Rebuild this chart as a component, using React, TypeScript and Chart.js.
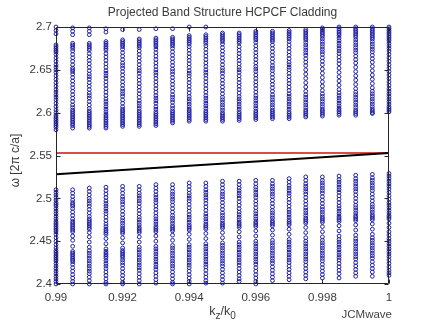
import React, { useEffect, useRef } from "react";
import { Chart, registerables } from "chart.js";

Chart.register(...registerables);

const kValues = [
  0.99, 0.9905, 0.991, 0.9915, 0.992, 0.9925, 0.993, 0.9935, 0.994, 0.9945,
  0.995, 0.9955, 0.996, 0.9965, 0.997, 0.9975, 0.998, 0.9985, 0.999, 0.9995, 1.0,
];

const col00 = [2.700, 2.696, 2.692, 2.679, 2.677, 2.675, 2.673, 2.671, 2.668, 2.664, 2.660, 2.656, 2.653, 2.650, 2.647, 2.643, 2.639, 2.635, 2.631, 2.627, 2.624, 2.621, 2.618, 2.615, 2.611, 2.607, 2.603, 2.600, 2.597, 2.595, 2.593, 2.591, 2.589, 2.587, 2.585, 2.583, 2.580,
  2.510, 2.507, 2.504, 2.501, 2.498, 2.495, 2.493, 2.491, 2.488, 2.485, 2.482, 2.479, 2.476, 2.473, 2.471, 2.469, 2.467, 2.465, 2.463, 2.461, 2.458, 2.454, 2.450, 2.446, 2.442, 2.439, 2.437, 2.435, 2.433, 2.431, 2.429, 2.427, 2.424, 2.421, 2.418, 2.415, 2.412, 2.409, 2.406, 2.403, 2.400];
const col01 = [2.699, 2.695, 2.691, 2.681, 2.679, 2.677, 2.675, 2.672, 2.668, 2.664, 2.660, 2.656, 2.652, 2.650, 2.648, 2.645, 2.641, 2.637, 2.633, 2.629, 2.625, 2.621, 2.617, 2.613, 2.609, 2.606, 2.603, 2.601, 2.599, 2.597, 2.595, 2.593, 2.591, 2.589, 2.587, 2.585, 2.582,
  2.510, 2.506, 2.502, 2.498, 2.495, 2.493, 2.491, 2.488, 2.484, 2.480, 2.476, 2.473, 2.471, 2.469, 2.467, 2.465, 2.463, 2.461, 2.456, 2.451, 2.444, 2.438, 2.436, 2.434, 2.432, 2.430, 2.428, 2.426, 2.423, 2.419, 2.415, 2.411, 2.407, 2.403, 2.400];
const col02 = [2.699, 2.695, 2.691, 2.681, 2.679, 2.677, 2.675, 2.673, 2.669, 2.665, 2.661, 2.657, 2.653, 2.649, 2.645, 2.642, 2.639, 2.635, 2.631, 2.627, 2.623, 2.620, 2.617, 2.613, 2.609, 2.605, 2.602, 2.600, 2.598, 2.596, 2.594, 2.592, 2.590, 2.588, 2.586, 2.584, 2.582,
  2.512, 2.508, 2.504, 2.500, 2.497, 2.494, 2.491, 2.487, 2.483, 2.479, 2.476, 2.474, 2.472, 2.470, 2.468, 2.466, 2.464, 2.460, 2.455, 2.449, 2.443, 2.439, 2.436, 2.433, 2.430, 2.427, 2.424, 2.421, 2.418, 2.415, 2.412, 2.408, 2.404, 2.400];
const col03 = [2.698, 2.694, 2.683, 2.681, 2.679, 2.677, 2.675, 2.673, 2.669, 2.665, 2.661, 2.657, 2.653, 2.649, 2.646, 2.643, 2.640, 2.636, 2.632, 2.628, 2.624, 2.620, 2.616, 2.613, 2.610, 2.607, 2.604, 2.601, 2.598, 2.596, 2.594, 2.592, 2.590, 2.588, 2.586, 2.584, 2.582,
  2.513, 2.509, 2.505, 2.501, 2.497, 2.494, 2.491, 2.488, 2.485, 2.482, 2.478, 2.474, 2.470, 2.467, 2.464, 2.462, 2.460, 2.458, 2.453, 2.447, 2.441, 2.438, 2.436, 2.434, 2.432, 2.430, 2.427, 2.424, 2.421, 2.418, 2.414, 2.410, 2.406, 2.402, 2.400];
const col04 = [2.697, 2.685, 2.683, 2.681, 2.679, 2.677, 2.674, 2.670, 2.666, 2.662, 2.658, 2.655, 2.652, 2.648, 2.644, 2.640, 2.636, 2.632, 2.628, 2.625, 2.622, 2.619, 2.615, 2.611, 2.607, 2.604, 2.602, 2.600, 2.598, 2.596, 2.594, 2.592, 2.590, 2.588, 2.586, 2.584,
  2.514, 2.510, 2.506, 2.502, 2.499, 2.496, 2.493, 2.489, 2.485, 2.481, 2.477, 2.474, 2.471, 2.468, 2.465, 2.463, 2.461, 2.459, 2.454, 2.448, 2.442, 2.439, 2.437, 2.435, 2.433, 2.431, 2.428, 2.425, 2.422, 2.418, 2.414, 2.410, 2.406, 2.402, 2.400];
const col05 = [2.697, 2.686, 2.684, 2.682, 2.680, 2.678, 2.676, 2.672, 2.668, 2.664, 2.660, 2.656, 2.652, 2.649, 2.646, 2.642, 2.638, 2.634, 2.630, 2.626, 2.622, 2.618, 2.614, 2.611, 2.608, 2.605, 2.602, 2.600, 2.598, 2.596, 2.594, 2.592, 2.590, 2.588, 2.586, 2.584,
  2.514, 2.510, 2.506, 2.503, 2.500, 2.497, 2.494, 2.490, 2.486, 2.482, 2.478, 2.475, 2.472, 2.469, 2.466, 2.464, 2.462, 2.460, 2.455, 2.449, 2.443, 2.440, 2.437, 2.434, 2.431, 2.428, 2.425, 2.422, 2.419, 2.416, 2.412, 2.408, 2.404, 2.400];
const col06 = [2.698, 2.687, 2.685, 2.683, 2.681, 2.679, 2.677, 2.674, 2.670, 2.666, 2.662, 2.658, 2.654, 2.650, 2.647, 2.644, 2.640, 2.636, 2.632, 2.628, 2.624, 2.620, 2.617, 2.614, 2.611, 2.607, 2.604, 2.601, 2.599, 2.597, 2.595, 2.593, 2.591, 2.589, 2.587, 2.585,
  2.516, 2.512, 2.508, 2.504, 2.501, 2.498, 2.495, 2.491, 2.487, 2.483, 2.479, 2.476, 2.473, 2.470, 2.467, 2.465, 2.463, 2.461, 2.456, 2.450, 2.444, 2.441, 2.438, 2.435, 2.432, 2.429, 2.426, 2.423, 2.420, 2.417, 2.413, 2.409, 2.405, 2.401];
const col07 = [2.698, 2.688, 2.686, 2.684, 2.682, 2.680, 2.678, 2.675, 2.671, 2.667, 2.663, 2.659, 2.655, 2.651, 2.648, 2.645, 2.641, 2.637, 2.633, 2.629, 2.625, 2.621, 2.618, 2.615, 2.612, 2.608, 2.605, 2.602, 2.600, 2.598, 2.596, 2.594, 2.592, 2.590, 2.588,
  2.516, 2.512, 2.508, 2.505, 2.502, 2.499, 2.496, 2.492, 2.488, 2.484, 2.480, 2.477, 2.474, 2.471, 2.468, 2.466, 2.464, 2.462, 2.457, 2.451, 2.445, 2.442, 2.439, 2.436, 2.433, 2.430, 2.427, 2.424, 2.421, 2.418, 2.414, 2.410, 2.406, 2.402, 2.400];
const col08 = [2.700, 2.690, 2.688, 2.686, 2.684, 2.682, 2.680, 2.677, 2.673, 2.669, 2.665, 2.661, 2.657, 2.653, 2.649, 2.646, 2.643, 2.639, 2.635, 2.631, 2.627, 2.623, 2.619, 2.616, 2.613, 2.610, 2.607, 2.604, 2.602, 2.600, 2.598, 2.596, 2.594, 2.592, 2.590,
  2.518, 2.514, 2.510, 2.506, 2.503, 2.500, 2.497, 2.493, 2.489, 2.485, 2.481, 2.478, 2.475, 2.472, 2.469, 2.467, 2.465, 2.463, 2.458, 2.452, 2.446, 2.443, 2.440, 2.437, 2.434, 2.431, 2.428, 2.425, 2.422, 2.419, 2.415, 2.411, 2.407, 2.403, 2.400];
const col09 = [2.700, 2.691, 2.689, 2.687, 2.685, 2.683, 2.681, 2.678, 2.674, 2.670, 2.666, 2.662, 2.658, 2.654, 2.650, 2.647, 2.644, 2.640, 2.636, 2.632, 2.628, 2.624, 2.620, 2.617, 2.614, 2.611, 2.608, 2.605, 2.602, 2.600, 2.598, 2.596, 2.594, 2.592, 2.590,
  2.518, 2.514, 2.510, 2.507, 2.504, 2.501, 2.498, 2.494, 2.490, 2.486, 2.482, 2.479, 2.476, 2.473, 2.470, 2.468, 2.466, 2.464, 2.459, 2.453, 2.447, 2.444, 2.441, 2.438, 2.435, 2.432, 2.429, 2.426, 2.423, 2.420, 2.416, 2.412, 2.408, 2.404, 2.401];
const col10 = [2.693, 2.691, 2.689, 2.687, 2.685, 2.683, 2.680, 2.676, 2.672, 2.668, 2.664, 2.660, 2.656, 2.652, 2.649, 2.646, 2.642, 2.638, 2.634, 2.630, 2.626, 2.622, 2.618, 2.615, 2.612, 2.609, 2.606, 2.603, 2.600, 2.598, 2.596, 2.594, 2.592, 2.590,
  2.520, 2.516, 2.512, 2.508, 2.505, 2.502, 2.499, 2.495, 2.491, 2.487, 2.483, 2.480, 2.477, 2.474, 2.471, 2.469, 2.467, 2.465, 2.460, 2.454, 2.448, 2.445, 2.442, 2.439, 2.436, 2.433, 2.430, 2.427, 2.424, 2.421, 2.417, 2.413, 2.409, 2.405, 2.401];
const col11 = [2.693, 2.691, 2.689, 2.687, 2.685, 2.683, 2.681, 2.677, 2.673, 2.669, 2.665, 2.661, 2.657, 2.653, 2.650, 2.647, 2.643, 2.639, 2.635, 2.631, 2.627, 2.623, 2.619, 2.616, 2.613, 2.610, 2.607, 2.604, 2.601, 2.599, 2.597, 2.595, 2.593, 2.591,
  2.520, 2.516, 2.512, 2.509, 2.506, 2.503, 2.500, 2.496, 2.492, 2.488, 2.484, 2.481, 2.478, 2.475, 2.472, 2.470, 2.468, 2.466, 2.461, 2.455, 2.449, 2.446, 2.443, 2.440, 2.437, 2.434, 2.431, 2.428, 2.425, 2.422, 2.418, 2.414, 2.410, 2.406, 2.403];
const col12 = [2.695, 2.693, 2.691, 2.689, 2.687, 2.685, 2.682, 2.678, 2.674, 2.670, 2.666, 2.662, 2.658, 2.654, 2.651, 2.648, 2.644, 2.640, 2.636, 2.632, 2.628, 2.624, 2.620, 2.617, 2.614, 2.611, 2.608, 2.605, 2.602, 2.600, 2.598, 2.596, 2.594, 2.592,
  2.521, 2.517, 2.513, 2.510, 2.507, 2.504, 2.501, 2.497, 2.493, 2.489, 2.485, 2.482, 2.479, 2.476, 2.473, 2.471, 2.469, 2.467, 2.462, 2.456, 2.450, 2.447, 2.444, 2.441, 2.438, 2.435, 2.432, 2.429, 2.426, 2.423, 2.419, 2.415, 2.411, 2.407, 2.403, 2.400];
const col13 = [2.695, 2.693, 2.691, 2.689, 2.687, 2.685, 2.683, 2.679, 2.675, 2.671, 2.667, 2.663, 2.659, 2.655, 2.652, 2.649, 2.645, 2.641, 2.637, 2.633, 2.629, 2.625, 2.621, 2.618, 2.615, 2.612, 2.609, 2.606, 2.603, 2.601, 2.599, 2.597, 2.595, 2.593,
  2.521, 2.517, 2.514, 2.511, 2.508, 2.505, 2.502, 2.498, 2.494, 2.490, 2.486, 2.483, 2.480, 2.477, 2.474, 2.472, 2.470, 2.468, 2.463, 2.457, 2.451, 2.448, 2.445, 2.442, 2.439, 2.436, 2.433, 2.430, 2.427, 2.424, 2.420, 2.416, 2.412, 2.408, 2.404];
const col14 = [2.696, 2.694, 2.692, 2.690, 2.688, 2.686, 2.683, 2.679, 2.675, 2.671, 2.667, 2.663, 2.659, 2.656, 2.653, 2.650, 2.646, 2.642, 2.638, 2.634, 2.630, 2.626, 2.622, 2.619, 2.616, 2.613, 2.610, 2.607, 2.604, 2.601, 2.599, 2.597, 2.595, 2.593,
  2.523, 2.519, 2.515, 2.512, 2.509, 2.506, 2.503, 2.499, 2.495, 2.491, 2.487, 2.484, 2.481, 2.478, 2.475, 2.473, 2.471, 2.469, 2.464, 2.458, 2.452, 2.449, 2.446, 2.443, 2.440, 2.437, 2.434, 2.431, 2.428, 2.425, 2.421, 2.417, 2.413, 2.409, 2.405];
const col15 = [2.697, 2.695, 2.693, 2.691, 2.689, 2.687, 2.685, 2.682, 2.679, 2.676, 2.673, 2.670, 2.667, 2.663, 2.659, 2.655, 2.650, 2.645, 2.640, 2.635, 2.630, 2.625, 2.621, 2.618, 2.615, 2.612, 2.609, 2.606, 2.603, 2.601, 2.599, 2.597, 2.595,
  2.525, 2.521, 2.517, 2.514, 2.511, 2.508, 2.505, 2.501, 2.497, 2.493, 2.489, 2.486, 2.483, 2.480, 2.477, 2.475, 2.473, 2.471, 2.466, 2.460, 2.454, 2.450, 2.447, 2.444, 2.441, 2.438, 2.435, 2.432, 2.429, 2.426, 2.422, 2.418, 2.414, 2.410, 2.406];
const col16 = [2.699, 2.697, 2.695, 2.693, 2.691, 2.689, 2.686, 2.683, 2.680, 2.677, 2.674, 2.671, 2.668, 2.664, 2.660, 2.656, 2.651, 2.646, 2.641, 2.636, 2.631, 2.626, 2.622, 2.619, 2.616, 2.613, 2.610, 2.607, 2.604, 2.602, 2.600, 2.598, 2.596,
  2.525, 2.521, 2.518, 2.515, 2.512, 2.509, 2.506, 2.502, 2.498, 2.494, 2.490, 2.487, 2.484, 2.481, 2.478, 2.476, 2.474, 2.472, 2.467, 2.461, 2.455, 2.451, 2.448, 2.445, 2.442, 2.439, 2.436, 2.433, 2.430, 2.427, 2.423, 2.419, 2.415, 2.411, 2.407];
const col17 = [2.700, 2.698, 2.696, 2.694, 2.692, 2.690, 2.687, 2.684, 2.681, 2.678, 2.675, 2.672, 2.669, 2.665, 2.661, 2.657, 2.652, 2.647, 2.642, 2.637, 2.632, 2.627, 2.623, 2.620, 2.617, 2.614, 2.611, 2.608, 2.605, 2.603, 2.601, 2.599, 2.597,
  2.526, 2.522, 2.519, 2.516, 2.513, 2.510, 2.507, 2.503, 2.499, 2.495, 2.491, 2.488, 2.485, 2.482, 2.479, 2.477, 2.475, 2.473, 2.468, 2.462, 2.456, 2.452, 2.449, 2.446, 2.443, 2.440, 2.437, 2.434, 2.431, 2.428, 2.424, 2.420, 2.416, 2.412, 2.407];
const col18 = [2.700, 2.698, 2.696, 2.694, 2.692, 2.690, 2.688, 2.685, 2.682, 2.679, 2.676, 2.673, 2.670, 2.666, 2.662, 2.658, 2.653, 2.648, 2.643, 2.638, 2.633, 2.628, 2.624, 2.621, 2.618, 2.615, 2.612, 2.609, 2.606, 2.603, 2.601, 2.599, 2.597,
  2.527, 2.523, 2.520, 2.517, 2.514, 2.511, 2.508, 2.504, 2.500, 2.496, 2.492, 2.489, 2.486, 2.483, 2.480, 2.478, 2.476, 2.474, 2.469, 2.463, 2.457, 2.453, 2.450, 2.447, 2.444, 2.441, 2.438, 2.435, 2.432, 2.429, 2.425, 2.421, 2.417, 2.413, 2.409];
const col19 = [2.700, 2.698, 2.696, 2.694, 2.692, 2.690, 2.688, 2.686, 2.683, 2.680, 2.677, 2.674, 2.671, 2.667, 2.663, 2.659, 2.654, 2.649, 2.644, 2.639, 2.634, 2.629, 2.625, 2.622, 2.619, 2.616, 2.613, 2.610, 2.607, 2.604, 2.602, 2.600, 2.599,
  2.528, 2.524, 2.521, 2.518, 2.515, 2.512, 2.509, 2.505, 2.501, 2.497, 2.493, 2.490, 2.487, 2.484, 2.481, 2.479, 2.477, 2.475, 2.470, 2.464, 2.458, 2.454, 2.451, 2.448, 2.445, 2.442, 2.439, 2.436, 2.433, 2.430, 2.426, 2.422, 2.418, 2.414, 2.409];
const col20 = [2.700, 2.698, 2.696, 2.694, 2.692, 2.690, 2.688, 2.686, 2.684, 2.681, 2.678, 2.675, 2.672, 2.668, 2.664, 2.660, 2.656, 2.652, 2.648, 2.644, 2.640, 2.636, 2.632, 2.628, 2.625, 2.622, 2.619, 2.616, 2.613, 2.610, 2.607, 2.605, 2.603, 2.601,
  2.529, 2.526, 2.523, 2.520, 2.517, 2.514, 2.511, 2.507, 2.503, 2.499, 2.495, 2.492, 2.489, 2.486, 2.483, 2.480, 2.478, 2.476, 2.471, 2.466, 2.461, 2.457, 2.453, 2.450, 2.447, 2.444, 2.441, 2.438, 2.435, 2.432, 2.428, 2.424, 2.420, 2.416, 2.413, 2.410];

const modeColumns = [col00, col01, col02, col03, col04, col05, col06, col07, col08, col09, col10,
  col11, col12, col13, col14, col15, col16, col17, col18, col19, col20];

const lightLineK = [0.99, 1.0];
const lightLineW = [2.528, 2.553];
const cutoffK = [0.99, 1.0];
const cutoffW = [2.553, 2.553];

const xTickValues = [0.99, 0.992, 0.994, 0.996, 0.998, 1.0];
const xTickLabels = ["0.99", "0.992", "0.994", "0.996", "0.998", "1"];
const yTickValues = [2.4, 2.45, 2.5, 2.55, 2.6, 2.65, 2.7];
const yTickLabels = ["2.4", "2.45", "2.5", "2.55", "2.6", "2.65", "2.7"];

const FONT = "'Liberation Sans', Arial, Helvetica, sans-serif";
const TEXT = "#3a3a3a";

const framePlugin = {
  id: "matlabFrame",
  afterDraw(chart: any) {
    const { ctx, chartArea: a, scales } = chart;
    const xs = scales.x;
    const ys = scales.y;
    ctx.save();
    const L = Math.round(a.left) + 0.5;
    const R = Math.round(a.right) - 0.5;
    const T = Math.round(a.top) + 0.5;
    const B = Math.round(a.bottom) - 0.5;
    ctx.strokeStyle = "#262626";
    ctx.lineWidth = 1;
    ctx.beginPath();
    ctx.rect(L, T, R - L, B - T);
    const tl = 4;
    xTickValues.forEach((v) => {
      const px = Math.round(xs.getPixelForValue(v)) + 0.5;
      ctx.moveTo(px, B);
      ctx.lineTo(px, B - tl);
      ctx.moveTo(px, T);
      ctx.lineTo(px, T + tl);
    });
    yTickValues.forEach((v) => {
      const py = Math.round(ys.getPixelForValue(v)) + 0.5;
      ctx.moveTo(L, py);
      ctx.lineTo(L + tl, py);
      ctx.moveTo(R, py);
      ctx.lineTo(R - tl, py);
    });
    ctx.stroke();

    // title
    ctx.fillStyle = TEXT;
    ctx.font = `12px ${FONT}`;
    ctx.textAlign = "center";
    ctx.textBaseline = "alphabetic";
    ctx.fillText("Projected Band Structure HCPCF Cladding", (a.left + a.right) / 2, 16);

    // x label k_z/k_0
    const cx = (a.left + a.right) / 2;
    const parts = [
      { t: "k", sub: false },
      { t: "z", sub: true },
      { t: "/k", sub: false },
      { t: "0", sub: true },
    ];
    const mainFont = `12.5px ${FONT}`;
    const subFont = `10px ${FONT}`;
    let total = 0;
    parts.forEach((p) => {
      ctx.font = p.sub ? subFont : mainFont;
      total += ctx.measureText(p.t).width;
    });
    let x0 = cx - total / 2;
    ctx.textAlign = "left";
    parts.forEach((p) => {
      ctx.font = p.sub ? subFont : mainFont;
      ctx.fillText(p.t, x0, p.sub ? 319 : 315);
      x0 += ctx.measureText(p.t).width;
    });

    // y label
    ctx.save();
    ctx.translate(19, (a.top + a.bottom) / 2 + 5);
    ctx.rotate(-Math.PI / 2);
    ctx.font = `12px ${FONT}`;
    ctx.textAlign = "center";
    ctx.fillText("\u03c9 [2\u03c0 c/a]", 0, 0);
    ctx.restore();

    // watermark
    ctx.font = `11.5px ${FONT}`;
    ctx.fillStyle = "#444444";
    ctx.textAlign = "right";
    ctx.fillText("JCMwave", 392, 318);
    ctx.restore();
  },
};

export default function App() {
  const ref = useRef<HTMLCanvasElement | null>(null);

  useEffect(() => {
    document.body.style.margin = "0";
    const canvas = ref.current;
    if (!canvas) return;

    const scatterPoints: { x: number; y: number }[] = [];
    modeColumns.forEach((col, i) => {
      col.forEach((w) => scatterPoints.push({ x: kValues[i], y: w }));
    });

    const chart = new Chart(canvas, {
      type: "scatter",
      data: {
        datasets: [
          {
            type: "line",
            data: lightLineK.map((k, i) => ({ x: k, y: lightLineW[i] })),
            borderColor: "#000000",
            borderWidth: 2,
            pointRadius: 0,
            fill: false,
          } as any,
          {
            type: "line",
            data: cutoffK.map((k, i) => ({ x: k, y: cutoffW[i] })),
            borderColor: "#cc1010",
            borderWidth: 1.5,
            pointRadius: 0,
            fill: false,
          } as any,
          {
            data: scatterPoints,
            pointStyle: "circle",
            pointRadius: 1.9,
            pointBorderWidth: 1,
            pointBorderColor: "rgb(30,30,165)",
            pointBackgroundColor: "rgba(0,0,0,0)",
            clip: false,
          } as any,
        ],
      },
      options: {
        responsive: false,
        devicePixelRatio: 1,
        animation: false,
        events: [],
        layout: { padding: { left: 0, right: 41, top: 27, bottom: 0 } },
        plugins: {
          legend: { display: false },
          title: { display: false },
          tooltip: { enabled: false },
        },
        scales: {
          x: {
            type: "linear",
            min: 0.99,
            max: 1.0,
            grid: { display: false, drawTicks: false },
            border: { display: false },
            afterBuildTicks: (s: any) => {
              s.ticks = xTickValues.map((v) => ({ value: v }));
            },
            afterFit: (s: any) => {
              s.height = 38;
            },
            ticks: {
              autoSkip: false,
              maxRotation: 0,
              padding: 7,
              color: TEXT,
              font: { family: FONT, size: 11.5 },
              callback: (_v: any, i: number) => xTickLabels[i],
            },
          },
          y: {
            type: "linear",
            min: 2.4,
            max: 2.7,
            grid: { display: false, drawTicks: false },
            border: { display: false },
            afterBuildTicks: (s: any) => {
              s.ticks = yTickValues.map((v) => ({ value: v }));
            },
            afterFit: (s: any) => {
              s.width = 56;
            },
            ticks: {
              autoSkip: false,
              padding: 4,
              color: TEXT,
              font: { family: FONT, size: 11.5 },
              callback: (_v: any, i: number) => yTickLabels[i],
            },
          },
        },
      },
      plugins: [framePlugin],
    });

    return () => chart.destroy();
  }, []);

  return (
    <div style={{ position: "absolute", left: 0, top: 0, width: 430, height: 322, background: "#fff" }}>
      <canvas ref={ref} width={430} height={322} style={{ width: 430, height: 322, display: "block" }} />
    </div>
  );
}
